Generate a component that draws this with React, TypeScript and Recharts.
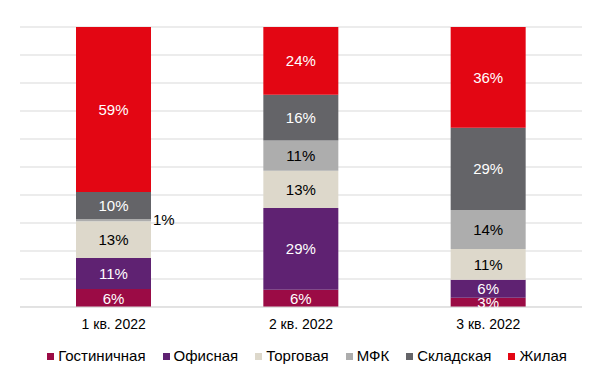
import React from "react";
import { BarChart, Bar, XAxis, YAxis, CartesianGrid, LabelList } from "recharts";

const categories = ["1 кв. 2022", "2 кв. 2022", "3 кв. 2022"];
const seriesNames = ["Гостиничная", "Офисная", "Торговая", "МФК", "Складская", "Жилая"];
const hotel = [6.4, 6.2, 3.3];
const office = [11.1, 29.2, 6.4];
const retail = [13.1, 13.3, 11.0];
const mfk = [0.8, 10.8, 13.9];
const warehouse = [9.7, 16.3, 29.4];
const residential = [58.9, 24.2, 36.0];
const yTicks = [0, 10, 20, 30, 40, 50, 60, 70, 80, 90, 100];

const seriesValues = [hotel, office, retail, mfk, warehouse, residential];
const colors = ["#9B0B45", "#5F2272", "#DDD8CB", "#ADADAD", "#646468", "#E30613"];
const labelColors = ["#fff", "#fff", "#000", "#000", "#fff", "#fff"];
const keys = ["s0", "s1", "s2", "s3", "s4", "s5"];

const data = categories.map((c, i) => {
  const row: any = { name: c };
  seriesValues.forEach((arr, s) => (row[keys[s]] = arr[i]));
  return row;
});

const PLOT_BOTTOM = 307.5;
const FONT = "'Liberation Sans', Arial, sans-serif";

const makeLabel = (s: number) => (props: any) => {
  const { x, y, width, height, value, index } = props;
  const text = Math.round(Number(value)) + "%";
  if (height < 6) {
    return (
      <text x={x + width + 2} y={y + height / 2} dy={5} fill="#000" fontSize={15} textAnchor="start" fontFamily={FONT}>
        {text}
      </text>
    );
  }
  const id = `clip-${s}-${index}`;
  return (
    <g>
      <defs>
        <clipPath id={id}>
          <rect x={x - 20} y={0} width={width + 40} height={PLOT_BOTTOM} />
        </clipPath>
      </defs>
      <text
        x={x + width / 2}
        y={y + height / 2}
        dy={5.5}
        fill={labelColors[s]}
        fontSize={15}
        textAnchor="middle"
        clipPath={`url(#${id})`}
        fontFamily={FONT}
      >
        {text}
      </text>
    </g>
  );
};

export default function App() {
  return (
    <div style={{ position: "absolute", left: 0, top: 0, width: 614, height: 378, background: "#fff", fontFamily: FONT }}>
      <BarChart
        width={614}
        height={378}
        data={data}
        margin={{ top: 27, right: 32, left: 20, bottom: 41 }}
        barSize={75}
      >
        <CartesianGrid vertical={false} stroke="#D9D9D9" />
        <YAxis hide domain={[0, 100]} ticks={yTicks} type="number" />
        <XAxis
          dataKey="name"
          height={30}
          tickLine={false}
          axisLine={{ stroke: "#D9D9D9" }}
          tickMargin={6}
          tick={{ fill: "#000", fontSize: 14, fontFamily: FONT }}
          interval={0}
        />
        {keys.map((k, s) => (
          <Bar key={k} dataKey={k} stackId="a" fill={colors[s]} isAnimationActive={false}>
            <LabelList dataKey={k} content={makeLabel(s)} />
          </Bar>
        ))}
      </BarChart>
      <div
        style={{
          position: "absolute",
          top: 347,
          left: 0,
          width: 614,
          display: "flex",
          justifyContent: "center",
          fontSize: 15,
          color: "#000",
          lineHeight: "18px",
        }}
      >
        {seriesNames.map((n, s) => (
          <div key={n} style={{ display: "flex", alignItems: "center", marginRight: s < seriesNames.length - 1 ? 17 : 0 }}>
            <span style={{ display: "inline-block", width: 7, height: 7, background: colors[s], marginRight: 4 }} />
            <span>{n}</span>
          </div>
        ))}
      </div>
    </div>
  );
}
